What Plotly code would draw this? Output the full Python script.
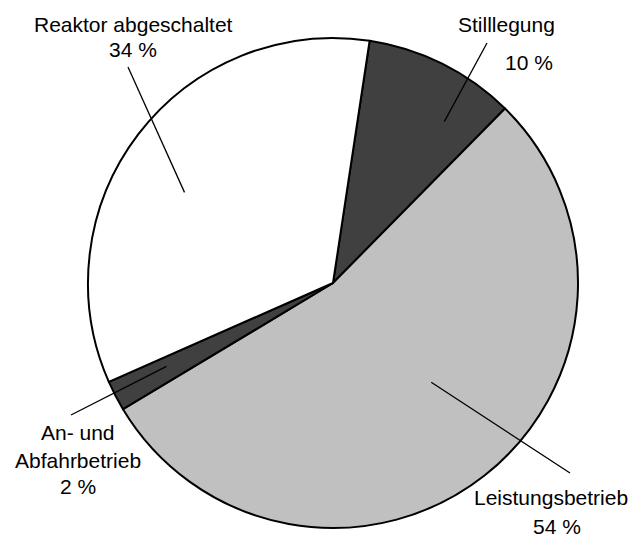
import numpy as np
import plotly.graph_objects as go

categories = ["Stilllegung", "Leistungsbetrieb", "An- und Abfahrbetrieb", "Reaktor abgeschaltet"]
values = [10, 54, 2, 34]
label_lines = [["Stilllegung", "10 %"], ["Leistungsbetrieb", "54 %"],
               ["An- und", "Abfahrbetrieb", "2 %"], ["Reaktor abgeschaltet", "34 %"]]
colors = ["#404040", "#c0c0c0", "#404040", "#ffffff"]

W, H = 639, 538
CX, CY, R = 333, 283, 245
ROTATION = 8.6

# label layout (pixels): centre of each text line, leader-line outer end, inner radius fraction, angle offset
line_pos = [[(506, 25), (529, 63)], [(551, 497), (557, 526)],
            [(78, 432), (78, 460), (78, 486)], [(133, 25), (133, 50)]]
line_outer = [(487, 43), (570, 473), (71, 415), (128, 67)]
inner_frac = [0.80, 0.57, 0.76, 0.71]
angle_off = [8.0, -6.5, 0.8, -6.0]

fig = go.Figure(go.Pie(
    labels=categories, values=values, sort=False, direction="clockwise",
    rotation=ROTATION, marker=dict(colors=colors, line=dict(color="black", width=2)),
    textinfo="none", hoverinfo="label+percent", showlegend=False,
    domain=dict(x=[(CX - R) / W, (CX + R) / W], y=[1 - (CY + R) / H, 1 - (CY - R) / H]),
))

vals = np.array(values, dtype=float)
cum = np.cumsum(vals) / vals.sum() * 360
starts = np.concatenate([[0], cum[:-1]])
mids = ROTATION + (starts + cum) / 2

shapes = []
annotations = []
for i, m in enumerate(mids):
    a = np.radians(m + angle_off[i])
    r = inner_frac[i] * R
    ix, iy = CX + r * np.sin(a), CY - r * np.cos(a)
    ox, oy = line_outer[i]
    shapes.append(dict(type="line", xref="paper", yref="paper",
                       x0=ix / W, y0=1 - iy / H, x1=ox / W, y1=1 - oy / H,
                       line=dict(color="black", width=1.3)))
    for txt, (lx, ly) in zip(label_lines[i], line_pos[i]):
        annotations.append(dict(text=txt, x=lx / W, y=1 - ly / H, xref="paper", yref="paper",
                                showarrow=False, xanchor="center", yanchor="middle", align="center",
                                font=dict(family="Liberation Sans, Arial", size=21, color="black")))

fig.update_layout(width=W, height=H, margin=dict(l=0, r=0, t=0, b=0),
                  paper_bgcolor="white", plot_bgcolor="white",
                  shapes=shapes, annotations=annotations)
fig.write_html("out.html", config={"displayModeBar": False},
               post_script="document.body.style.margin='0px';")
